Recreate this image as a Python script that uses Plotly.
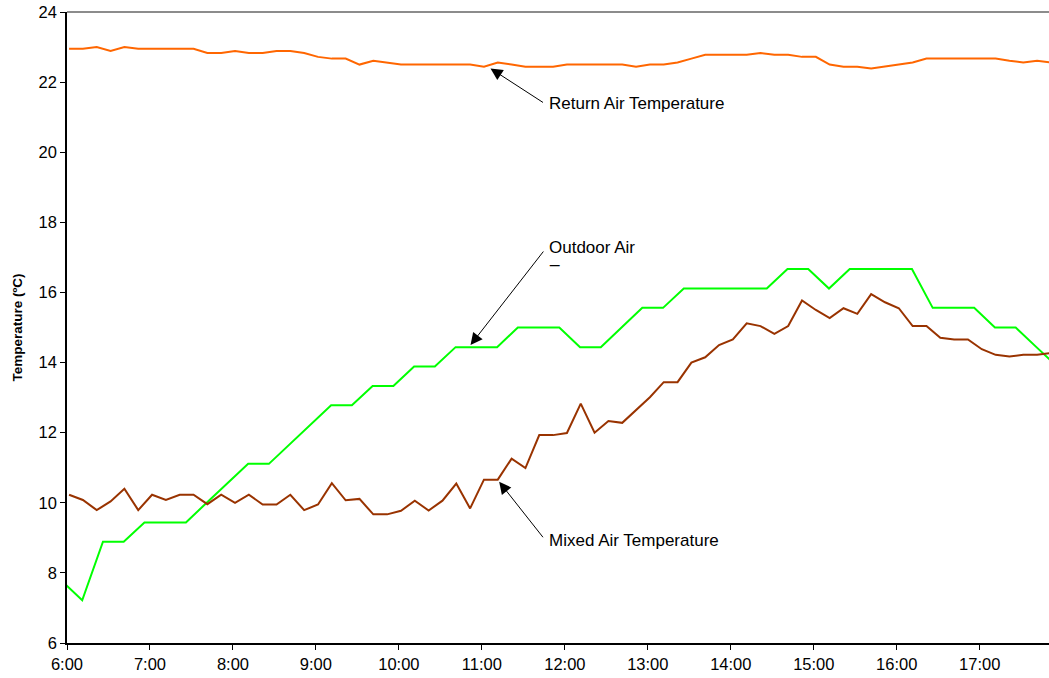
import plotly.graph_objects as go
import pandas as pd

# ---- data ----
# 10-minute logger samples (return air & mixed air)
return_air = [22.95, 22.95, 23.00, 22.89, 23.00, 22.95, 22.95, 22.95, 22.95, 22.95,
              22.83, 22.83, 22.89, 22.83, 22.83, 22.89, 22.89, 22.83, 22.72, 22.67,
              22.67, 22.50, 22.61, 22.56, 22.50, 22.50, 22.50, 22.50, 22.50, 22.50,
              22.44, 22.56, 22.50, 22.44, 22.44, 22.44, 22.50, 22.50, 22.50, 22.50,
              22.50, 22.44, 22.50, 22.50, 22.56, 22.67, 22.78, 22.78, 22.78, 22.78,
              22.83, 22.78, 22.78, 22.72, 22.72, 22.50, 22.44, 22.44, 22.39, 22.44,
              22.50, 22.56, 22.67, 22.67, 22.67, 22.67, 22.67, 22.67, 22.61, 22.56,
              22.61, 22.56]
mixed_air = [10.23, 10.08, 9.79, 10.04, 10.40, 9.79, 10.23, 10.08, 10.23, 10.23,
             9.96, 10.23, 10.00, 10.23, 9.95, 9.95, 10.23, 9.79, 9.95, 10.56,
             10.07, 10.11, 9.67, 9.67, 9.77, 10.06, 9.78, 10.06, 10.55, 9.84,
             10.66, 10.66, 11.26, 10.99, 11.93, 11.93, 11.99, 12.83, 12.00, 12.33,
             12.28, 12.65, 13.01, 13.44, 13.44, 14.00, 14.15, 14.50, 14.66, 15.12,
             15.04, 14.82, 15.04, 15.77, 15.50, 15.27, 15.55, 15.39, 15.95, 15.72,
             15.55, 15.04, 15.04, 14.71, 14.66, 14.66, 14.38, 14.22, 14.17, 14.22,
             14.22, 14.27]
# 15-minute weather samples (outdoor air)
outdoor_air = [7.78, 7.22, 8.89, 8.89, 9.44, 9.44, 9.44, 10.00, 10.56, 11.11,
               11.11, 11.67, 12.22, 12.78, 12.78, 13.33, 13.33, 13.89, 13.89, 14.44,
               14.44, 14.44, 15.00, 15.00, 15.00, 14.44, 14.44, 15.00, 15.56, 15.56,
               16.11, 16.11, 16.11, 16.11, 16.11, 16.67, 16.67, 16.11, 16.67, 16.67,
               16.67, 16.67, 15.56, 15.56, 15.56, 15.00, 15.00, 14.44, 13.89]

times_10 = pd.date_range("2000-01-01 06:01:30", periods=len(return_air), freq="10min")
times_15 = pd.date_range("2000-01-01 05:56:00", periods=len(outdoor_air), freq="15min")

y_ticks = [6, 8, 10, 12, 14, 16, 18, 20, 22, 24]

FONT = "Liberation Sans, Arial, sans-serif"

fig = go.Figure()
fig.add_trace(go.Scatter(x=times_15, y=outdoor_air, mode="lines",
                         line=dict(color="#00FF00", width=2), name="Outdoor Air"))
fig.add_trace(go.Scatter(x=times_10, y=mixed_air, mode="lines",
                         line=dict(color="#993300", width=2), name="Mixed Air Temperature"))
fig.add_trace(go.Scatter(x=times_10, y=return_air, mode="lines",
                         line=dict(color="#FF6600", width=2), name="Return Air Temperature"))

fig.update_layout(
    width=1049, height=678,
    margin=dict(l=67, r=0, t=12, b=35),
    plot_bgcolor="white", paper_bgcolor="white",
    showlegend=False,
    font=dict(family=FONT, size=16, color="black"),
)
fig.update_xaxes(
    type="date",
    range=["2000-01-01 06:00:00", "2000-01-01 17:50:06"],
    tick0="2000-01-01 06:00:00", dtick=3600000, tickformat="%-H:%M",
    ticks="outside", ticklen=5, tickcolor="black", tickwidth=1,
    showline=True, linecolor="black", linewidth=1.5,
    showgrid=False, zeroline=False,
    tickfont=dict(family=FONT, size=16.5, color="black"),
)
fig.update_yaxes(
    range=[6, 24], tickvals=y_ticks,
    ticks="outside", ticklen=5, tickcolor="black", tickwidth=1,
    showline=True, linecolor="black", linewidth=1.5,
    showgrid=False, zeroline=False,
    tickfont=dict(family=FONT, size=16.5, color="black"),
    title=dict(text="Temperature (ºC)", font=dict(family=FONT, size=13.5, color="black", weight="bold"),
               standoff=13),
)

# grey plot-area border on top
fig.add_shape(type="line", xref="paper", yref="paper", x0=0, x1=1, y0=1, y1=1,
              line=dict(color="#8c8c8c", width=2))

arrow_style = dict(showarrow=True, arrowhead=2, arrowsize=2.4, arrowwidth=1,
                   arrowcolor="black", standoff=0, text="", axref="pixel", ayref="pixel")
# arrows (tip in data coords, tail offset in pixels)
fig.add_annotation(x="2000-01-01 11:06:15", y=22.39, ax=54, ay=35, **arrow_style)
fig.add_annotation(x="2000-01-01 10:51:48", y=14.50, ax=74, ay=-95, **arrow_style)
fig.add_annotation(x="2000-01-01 11:12:30", y=10.60, ax=45, ay=57, **arrow_style)

label_style = dict(showarrow=False, xanchor="left", yanchor="middle", xshift=-2,
                   font=dict(family=FONT, size=17, color="black"))
fig.add_annotation(x="2000-01-01 11:48:26", y=21.38, text="Return Air Temperature", **label_style)
fig.add_annotation(x="2000-01-01 11:48:26", y=17.27, text="Outdoor Air", **label_style)
fig.add_annotation(x="2000-01-01 11:48:26", y=17.00, text="_", **label_style)
fig.add_annotation(x="2000-01-01 11:48:26", y=8.91, text="Mixed Air Temperature", **label_style)

fig.write_html("out.html", config={"displayModeBar": False},
               post_script="document.body.style.margin='0px';")
